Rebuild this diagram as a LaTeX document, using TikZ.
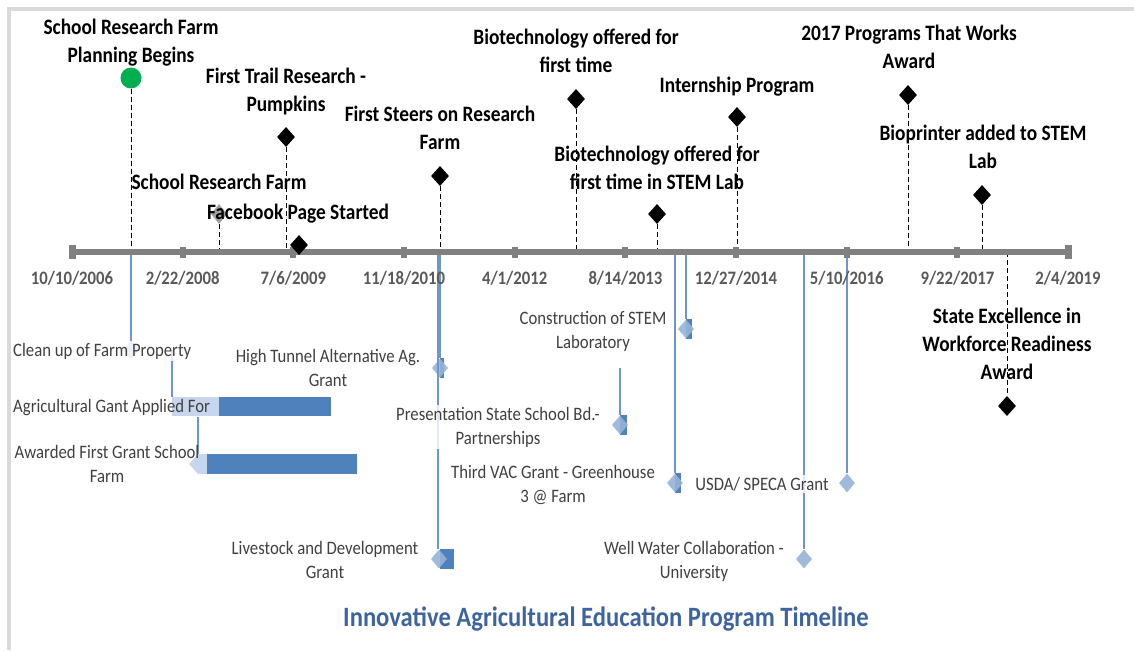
\documentclass[tikz,border=0pt]{standalone}
\usepackage{fontspec}
\setmainfont[FakeStretch=0.88]{Carlito}
\usetikzlibrary{shapes.geometric}

\definecolor{framegrey}{HTML}{D9D9D9}
\definecolor{axisgrey}{HTML}{808080}
\definecolor{dategrey}{HTML}{595959}
\definecolor{notegrey}{HTML}{404040}
\definecolor{linkblue}{HTML}{6F95C9}
\definecolor{paleblue}{HTML}{95B3D7}
\definecolor{fadeblue}{HTML}{C6D6EC}
\definecolor{barblue}{HTML}{4F81BD}
\definecolor{titleblue}{HTML}{3E64A0}
\definecolor{startgreen}{HTML}{00B050}

\tikzset{
  milestone/.style={diamond, fill=black, inner sep=0pt, minimum width=18, minimum height=20},
  grant/.style={diamond, fill=paleblue, fill opacity=0.9, inner sep=0pt, minimum width=16, minimum height=19},
  stub/.style={rectangle, fill=barblue, inner sep=0pt, anchor=west, minimum height=20},
  bar/.style={rectangle, fill=barblue, inner sep=0pt, anchor=west, minimum height=19},
  stemline/.style={draw=black, line width=0.9pt, dash pattern=on 5pt off 3pt},
  link/.style={draw=linkblue, line width=1.4pt},
  % multi-line labels: the base anchor sits on the last line
  event/.style={font=\bfseries\fontsize{22}{28}\selectfont, text=black, align=center, inner sep=0pt, anchor=base},
  note/.style={font=\fontsize{19}{24}\selectfont, text=notegrey, align=center, inner sep=2pt, anchor=base,
               fill=white, fill opacity=0.8, text opacity=1},
  plainnote/.style={font=\fontsize{19}{24}\selectfont, text=notegrey, align=center, inner sep=2pt, anchor=base},
  datelabel/.style={font=\bfseries\fontsize{19}{24}\selectfont, text=dategrey, inner sep=0pt, anchor=base},
  tick/.style={rectangle, fill=axisgrey, inner sep=0pt, minimum width=6, minimum height=11},
  endtick/.style={rectangle, fill=axisgrey, inner sep=0pt, minimum width=7, minimum height=14}
}

\begin{document}
\begin{tikzpicture}[x=1pt, y=-1pt]
\useasboundingbox (0,0) rectangle (1134,650);

% page frame (top and left edges)
\fill[framegrey] (7,7) rectangle (1134,11);
\fill[framegrey] (7,7) rectangle (11,650);

% axis end points
\coordinate (axL) at (72,252);
\coordinate (axR) at (1068,252);

% ---------- milestones above the axis ----------
\node[circle, fill=startgreen, inner sep=0pt, minimum width=19, minimum height=21] (m1) at (131,78) {};
\node[diamond, fill=axisgrey, fill opacity=0.75, inner sep=0pt, minimum width=16, minimum height=20] (m2) at (219,214) {};
\node[milestone] (m3) at (286,137) {};
\node[milestone] (m4) at (440,176) {};
\node[milestone] (m5) at (576,99) {};
\node[milestone] (m6) at (657,214) {};
\node[milestone] (m7) at (737,117) {};
\node[milestone] (m8) at (908,95) {};
\node[milestone] (m9) at (982,195) {};
\node[milestone] (m10) at (1007,406) {};

\foreach \m in {m1,m2,m3,m4,m5,m6,m7,m8,m9}
  \draw[stemline] (\m.south) -- (\m.south |- axL);
\draw[stemline] (m10.north |- axL) -- (m10.north);

% ---------- grant entries below the axis ----------
% connectors
\coordinate (c1) at (131,344);
\draw[link] (c1 |- axL) -- (c1);
\coordinate (c2top) at (172,350);
\coordinate (c2bot) at (172,397);
\draw[link] (c2top) -- (c2bot);
\coordinate (c3top) at (198,417);
\coordinate (c3bot) at (198,455);
\draw[link] (c3top) -- (c3bot);

\node[grant] (g1) at (131,350) {};

% high tunnel and livestock grants
\node[stub, minimum width=4] (s4) at (440,368) {};
\node[grant] (g4) at (440,368) {};
\draw[link] (g4.north |- axL) -- (g4.north);
\node[stub, minimum width=14] (s5) at (440,559) {};
\node[grant] (g5) at (439,559) {};
\draw[link] ([xshift=-1pt]g5.north |- axL) -- ([xshift=-1pt]g5.north);

% presentation to the school board
\node[stub, minimum width=7] (s6) at (620,425) {};
\node[grant] (g6) at (620,425) {};
\coordinate (c6) at (620,368);
\draw[link] (c6) -- (g6.north);

% construction of the STEM laboratory
\node[stub, minimum width=6] (s7) at (686,329) {};
\node[grant] (g7) at (686,329) {};
\draw[link] (g7.north |- axL) -- (g7.north);

% third VAC grant
\node[stub, minimum width=6] (s8) at (675,483) {};
\node[grant] (g8) at (675,483) {};
\draw[link] (g8.north |- axL) -- (g8.north);

% USDA / SPECA grant
\node[grant] (g9) at (847,483) {};
\draw[link] (g9.north |- axL) -- (g9.north);

% well water collaboration
\node[grant] (g10) at (804,559) {};
\draw[link] (g10.north |- axL) -- (g10.north);

% ---------- axis ----------
\draw[axisgrey, line width=6pt] (axL) -- (axR);
\node[endtick] (t0) at (72,252) {};
\foreach \i in {1,...,8}
  \node[tick] (t\i) at ({72+110.67*\i},252) {};
\node[endtick] (t9) at (1068,252) {};

\foreach \i/\d in {0/10\slash 10\slash 2006, 1/2\slash 22\slash 2008, 2/7\slash 6\slash 2009,
                   3/11\slash 18\slash 2010, 4/4\slash 1\slash 2012, 5/8\slash 14\slash 2013,
                   6/12\slash 27\slash 2014, 7/5\slash 10\slash 2016, 8/9\slash 22\slash 2017,
                   9/2\slash 4\slash 2019}
  \node[datelabel] (dl\i) at ({72+110.67*\i},284) {\d};

\node[milestone] (m3b) at (299,245) {};

% ---------- milestone labels ----------
\node[event] (e1) at (131,63) {School Research Farm\\Planning Begins};
\node[event] (e2) at (219,189) {School Research Farm};
\node[event] (e2b) at (298,219) {Facebook Page Started};
\node[event] (e3) at (286,111) {First Trail Research -\\Pumpkins};
\node[event] (e4) at (440,149) {First Steers on Research\\Farm};
\node[event] (e5) at (576,73) {Biotechnology offered for\\first time};
\node[event] (e6) at (657,189) {Biotechnology offered for\\first time in STEM Lab};
\node[event] (e7) at (737,93) {Internship Program};
\node[event] (e8) at (909,69) {2017 Programs That Works\\Award};
\node[event] (e9) at (983,168) {Bioprinter added to STEM\\Lab};
\node[event] (e10) at (1007,379) {State Excellence in\\Workforce Readiness\\Award};

% ---------- grant labels ----------
\node[note, anchor=base west] (n1) at (11,356) {Clean up of Farm Property};

% application and award bars
\fill[fadeblue] (172,397) rectangle (219,416);
\node[bar, minimum width=112] (b2) at (219,406.5) {};
\node[diamond, fill=fadeblue, inner sep=0pt, minimum width=18, minimum height=20] (g3) at (198,464) {};
\fill[fadeblue] (198,454) rectangle (207,474);
\node[bar, minimum width=150, minimum height=20] (b3) at (207,464) {};

\node[plainnote, anchor=base west] (n2) at (11,412) {Agricultural Gant Applied For};
\node[plainnote] (n3) at (107,482) {Awarded First Grant School\\Farm};
\node[note] (n4) at (328,386) {High Tunnel Alternative Ag.\\Grant};
\node[note] (n5) at (325,578) {Livestock and Development\\Grant};
\node[note] (n6) at (498,444) {Presentation State School Bd.-\\Partnerships};
\node[note] (n7) at (593,348) {Construction of STEM\\Laboratory};
\node[note] (n8) at (553,502) {Third VAC Grant - Greenhouse\\3 @ Farm};
\node[note] (n9) at (762,490) {USDA/ SPECA Grant};
\node[note] (n10) at (694,578) {Well Water Collaboration -\\University};

% ---------- title ----------
\node[font=\bfseries\fontsize{28}{32}\selectfont, text=titleblue, anchor=base, inner sep=0pt] (title) at (606,626)
  {Innovative Agricultural Education Program Timeline};
\end{tikzpicture}
\end{document}
